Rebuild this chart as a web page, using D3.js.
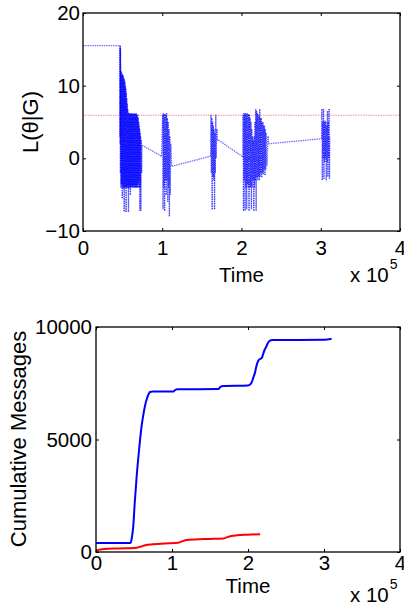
<!DOCTYPE html>
<html><head><meta charset="utf-8">
<script src="https://cdn.jsdelivr.net/npm/d3@7"></script>
<style>
html,body{margin:0;padding:0;background:#fff;}
svg{display:block;font-family:"Liberation Sans",Arial,Helvetica,sans-serif;}
</style></head>
<body>
<svg id="c" width="404" height="605"></svg>
<script>
// ---- Data (time in seconds) ----
const xTicks = [0, 100000, 200000, 300000, 400000];
const topYTicks = [-10, 0, 10, 20];
const bottomYTicks = [0, 5000, 10000];
const thresholdLevel = 6;

// L(theta|G) trace [time, value]
const likelihood = [
[0,15.5],[46700,15.5],[46800,3],[46900,15.5],[47000,2],[47100,15.3],[47200,-2],[47300,15],[47500,12.5],[47800,-4],[48100,12],[48400,-3.5],[48700,11.8],[49000,-4],[49300,11.5],[49600,-5.5],[49900,11.6],[50200,-4],[50500,11.4],[50800,-3.8],[51100,11.2],[51400,-4.2],[51700,11],[52000,-7.3],[52300,10.8],[52600,-4],[52900,10.5],[53200,-3.9],[53500,10],[53800,-4],[54100,9.6],[54400,-7.4],[54700,9],[55000,-4],[55300,8.2],[55600,-3.8],[55900,7.5],[56200,-4],[56500,6.8],[56800,-4.1],[57100,6.3],[57400,-7.4],[57700,6.2],[58000,-4],[58300,6.1],[58600,-3.9],[58900,6.2],[59200,-4],[59500,6],[59800,-5],[60100,6.2],[60400,-3.9],[60700,6.1],[61000,-4],[61300,6],[61600,-3.8],[61900,6.2],[62200,-4],[62500,6.1],[62800,-4],[63100,6],[63400,-3.9],[63700,6.2],[64000,-4],[64300,6.1],[64600,-3.7],[64900,6],[65200,-4],[65500,6.2],[65800,-3.9],[66100,6.1],[66400,-4],[66700,6],[67000,-4],[67300,6.2],[67600,-3.8],[67900,6],[68200,-4],[68500,5.8],[68800,-4],[69100,6],[69400,-3.5],[69700,5.5],[70000,-4],[70300,5],[70600,-3],[70900,4.5],[71200,-4],[71500,4],[71800,-7.2],[72100,3.5],[72400,-4],[72700,3],[73000,-7.2],[73500,2.5],[74000,-2],[74500,1.8],
[99000,0.3],[100500,6],[101000,-7],[101500,6.2],[102000,-4],[102500,6],[103000,-7.2],[103500,6.1],[104000,-3],[104500,6],[105000,-5],[105500,6.2],[106000,-3],[106500,5.5],[107000,-6],[107500,5],[108000,-4],[108500,4],[109000,-8],[109500,3],[110000,-5],[110700,2],[112000,-1.1],
[161000,0.3],[161500,6],[162000,-2],[162500,5.5],[163000,-7],[163500,5],[164000,-2.5],[164500,4.5],[165000,-3],[165500,4],[166000,-7],[166500,3.5],[167000,-2],[167500,6],[168000,0],[169000,4],[169500,2.5],[171000,2.5],
[201800,0.2],[202000,6],[202500,-7.2],[203000,6.2],[203500,-3],[204000,6.1],[204500,-7.2],[205000,6.2],[205500,-4],[206000,6],[206500,-7],[207000,6.2],[207500,-3.5],[208000,6.1],[208500,-4],[209000,6],[209500,-7.2],[210000,6],[210500,-4],[211000,5.5],[211500,-3.9],[212000,5],[212500,-7],[213000,4],[213500,-4],[214000,3],[214500,-3],[215000,2.5],[215500,-7.2],[216000,3],[216500,-4],
[217000,5],[217500,-3],[218000,6.8],[218500,-7.2],[219000,6.5],[219500,-2.6],[220000,6.2],[220500,-3],[221000,6],[221500,-2.5],[222000,5.8],[222500,-3],[223000,6.8],[223500,-2.5],[224000,5.5],[224500,-2],[225000,5.5],[225500,-2.6],[226000,5],[226500,-2],[227000,5],[227500,-2.2],[228000,4.5],[228500,-1.5],[229000,4.5],[229500,-2.3],[230000,4],[230500,-1.5],[231000,3.5],[232000,-1],[233500,3],[234000,2],
[301000,2.7],[301500,6.8],[302000,-3],[302500,5],[303000,0],[303500,6.8],[304000,-2.8],[304500,5],[305000,-0.5],[305500,5.2],[306000,0],[306500,5],[307000,-3],[307500,4.5],[308000,-0.5],[308500,6.5],[309000,-2.5],[309500,5],[310000,0],[310500,6.8],[311000,-2.8],[311500,3]
];

// Cumulative messages [time, count]
const cumulativeBlue = [
[0,400],[45600,400],[47000,600],[49000,1130],[51000,2200],[53500,3360],[56000,4300],[58000,5000],[60000,5600],[62000,6040],[64500,6500],[66700,6790],[69000,7000],[71000,7110],[75000,7130],[102000,7130],[104000,7200],[107000,7230],[161000,7240],[164000,7350],[167500,7380],[200000,7400],[203000,7450],[205000,7550],[207000,7750],[209000,7950],[211000,8250],[213500,8500],[216000,8580],[218000,8620],[220000,8800],[222000,9000],[224000,9120],[226000,9280],[229000,9390],[232000,9420],[300000,9430],[305000,9450],[310000,9480]
];
const cumulativeRed = [
[0,0],[2000,60],[5000,110],[10000,130],[30000,160],[53500,190],[58000,230],[65000,300],[75000,340],[90000,380],[108000,410],[112000,460],[119000,530],[130000,560],[150000,580],[167500,600],[172000,650],[180000,720],[185000,740],[200000,770],[216000,790]
];

// ---- Drawing ----
const svg = d3.select("#c");
svg.append("rect").attr("width",404).attr("height",605).attr("fill","#fff");

function frame(g, x, y, opts){
  const [x0,x1] = x.range(), [y0,y1] = y.range();
  const fmtX = d => d/100000;
  const bx = g.append("g").attr("transform",`translate(0,${y0})`)
    .call(d3.axisBottom(x).tickValues(xTicks).tickFormat(fmtX).tickSize(-3).tickPadding(opts.xPad));
  const tx = g.append("g").attr("transform",`translate(0,${y1})`)
    .call(d3.axisTop(x).tickValues(xTicks).tickFormat("").tickSize(-3));
  const ly = g.append("g").attr("transform",`translate(${x0},0)`)
    .call(d3.axisLeft(y).tickValues(opts.yTicks).tickFormat(d=>d<0?"\u2212"+Math.abs(d):d).tickSize(-3).tickPadding(opts.yPad));
  const ry = g.append("g").attr("transform",`translate(${x1},0)`)
    .call(d3.axisRight(y).tickValues(opts.yTicks).tickFormat("").tickSize(-3));
  [bx,tx,ly,ry].forEach(a=>{
    a.select(".domain").remove();
    a.selectAll("line").attr("stroke","#000").attr("stroke-width",1);
    a.selectAll("text").attr("fill","#000").style("font-size","20.5px")
     .style("font-family",'"Liberation Sans",Arial,sans-serif');
  });
  g.append("rect").attr("x",x0).attr("y",y1).attr("width",x1-x0).attr("height",y0-y1)
    .attr("fill","none").attr("stroke","#000").attr("stroke-width",1.3);
}

function exponent(g, xPos, yBase){
  const t = g.append("text").attr("x",xPos).attr("y",yBase).attr("fill","#000")
    .style("font-size","20.5px");
  t.append("tspan").text("x 10");
  t.append("tspan").attr("dy",-13).attr("dx",1).style("font-size","14px").text("5");
}

// Top panel
const xT = d3.scaleLinear().domain([0,400000]).range([83,400]);
const yT = d3.scaleLinear().domain([-10,20]).range([231,13]);
const gT = svg.append("g");

gT.append("line").attr("x1",xT(0)).attr("x2",xT(400000))
  .attr("y1",yT(thresholdLevel)+0.5).attr("y2",yT(thresholdLevel)+0.5)
  .attr("stroke","#ff3030").attr("stroke-opacity",0.55).attr("stroke-width",1)
  .attr("stroke-dasharray","1.5,1");

gT.append("g").selectAll("line").data(d3.pairs(likelihood)).join("line")
  .attr("x1",d=>xT(d[0][0])).attr("y1",d=>yT(d[0][1]))
  .attr("x2",d=>xT(d[1][0])).attr("y2",d=>yT(d[1][1]))
  .attr("stroke","#0000ff").attr("stroke-opacity",0.55).attr("stroke-width",1.3)
  .attr("stroke-dasharray","1.5,0.8");

frame(gT, xT, yT, {yTicks: topYTicks, xPad: 9.5, yPad: 3});
gT.append("text").attr("x",241.5).attr("y",281.5).attr("text-anchor","middle")
  .style("font-size","20.5px").attr("fill","#000").text("Time");
exponent(gT, 350, 282);
gT.append("text").attr("transform","translate(38,122) rotate(-90)").attr("text-anchor","middle")
  .style("font-size","22px").attr("fill","#000").text("L(\u03b8|G)");

// Bottom panel
const xB = d3.scaleLinear().domain([0,400000]).range([96,400]);
const yB = d3.scaleLinear().domain([0,10000]).range([552,327]);
const gB = svg.append("g");
const line = d3.line().x(d=>xB(d[0])).y(d=>yB(d[1])).curve(d3.curveMonotoneX);
gB.append("path").datum(cumulativeRed).attr("d",line).attr("fill","none")
  .attr("stroke","#ff0000").attr("stroke-width",2);
gB.append("path").datum(cumulativeBlue).attr("d",line).attr("fill","none")
  .attr("stroke","#0000ff").attr("stroke-width",2);
frame(gB, xB, yB, {yTicks: bottomYTicks, xPad: 3, yPad: 4});
gB.append("text").attr("x",248).attr("y",593).attr("text-anchor","middle")
  .style("font-size","20.5px").attr("fill","#000").text("Time");
exponent(gB, 350, 602);
gB.append("text").attr("transform","translate(25.5,439) rotate(-90)").attr("text-anchor","middle")
  .style("font-size","22px").attr("fill","#000").text("Cumulative Messages");
</script>
</body></html>
